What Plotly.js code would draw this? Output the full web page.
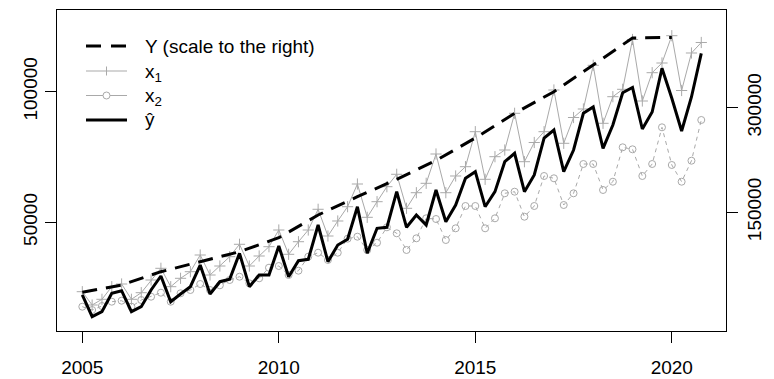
<!DOCTYPE html>
<html>
<head>
<meta charset="utf-8">
<script src="https://cdn.plot.ly/plotly-3.0.1.min.js"></script>
<style>html,body{margin:0;padding:0;background:#fff;}#chart{width:774px;height:379px;}</style>
</head>
<body>
<div id="chart"></div>
<script>
// quarterly series start (like an R ts: start 2005 Q1, frequency 4)
const quarterStart = 2005;
const quarterFreq = 4;
const x1 = [23430,18340,20520,25345,26380,20520,23050,27910,32390,25345,
            28560,31090,37480,29820,33270,36830,41580,33270,37100,40660,
            47050,37750,42570,47050,54980,44755,50500,55970,64660,51910,
            57890,63630,68380,55360,61330,64930,76150,61330,67730,71290,
            84690,66460,75120,77680,91730,73200,80550,84690,100650,80240,
            90120,93380,110110,87900,98090,100920,119990,96440,107280,110990,
            121440,100460,114820,118840];
const x2 = [17690,16420,17960,19600,19985,17690,20250,21520,23050,19600,
            22820,24080,26380,24080,25880,27910,29170,26650,28560,32620,
            33270,29820,31470,36830,38360,35570,38360,43720,44490,39400,
            42190,48090,45790,39400,43870,51530,51260,43220,47700,56240,
            56240,47700,51530,61100,61720,52140,56240,67730,66850,56620,
            61100,72320,72320,62370,65540,78710,77950,67730,72320,86370,
            71940,65540,73580,89170];
const yhat = [22170,13860,15770,22820,23810,15770,17690,24080,29440,19600,
              22550,25345,33650,22550,27260,28180,38130,25345,29820,29820,
              40930,29170,35300,35830,48970,34920,41310,43490,55970,38130,
              47700,48090,61720,48090,52790,48970,62370,50230,56620,66850,
              69370,55970,61720,73200,76420,61720,68110,82270,85340,69370,
              77680,91730,94140,78330,87250,99620,101610,85720,92230,108960,
              97470,84950,97970,114700];
// annual series Y (right axis)
const yearsY = [2005,2006,2007,2008,2009,2010,2011,2012,2013,2014,2015,2016,2017,2018,2019,2020];
const Y = [35280,45750,64820,79160,93500,113570,146130,172370,197320,224280,256550,291970,322940,361230,400000,400800];
// axis ticks
const xTicks = [2005,2010,2015,2020];
const yLeftTicks = [50000,100000];
const yRightTicks = [150000,300000];
const legendNames = ['Y (scale to the right)','x<sub>1</sub>','x<sub>2</sub>','\u0177'];

const tq = x1.map((_, i) => quarterStart + i / quarterFreq);
const grey = '#a9a9a9';
const font = {family: 'Liberation Sans, Arial, Helvetica, sans-serif', size: 19, color: '#000'};

const traces = [
  {x: yearsY, y: Y, yaxis: 'y2', name: legendNames[0], mode: 'lines',
   line: {color: '#000', width: 3, dash: '15px,9px'}},
  {x: tq, y: x1, name: legendNames[1], mode: 'lines+markers',
   line: {color: grey, width: 1},
   marker: {symbol: 'cross-thin-open', size: 8, color: grey, line: {color: grey, width: 1}}},
  {x: tq, y: x2, name: legendNames[2], mode: 'lines+markers',
   line: {color: grey, width: 1, dash: '4px,4px'},
   marker: {symbol: 'circle-open', size: 7, color: grey, line: {color: grey, width: 1}}},
  {x: tq, y: yhat, name: legendNames[3], mode: 'lines',
   line: {color: '#000', width: 3}}
];

// ---- legend drawn in layout (paper coordinates computed from pixel layout) ----
const M = {l: 57, r: 48, t: 10, b: 48};
const W = 774, H = 379;
const pw = W - M.l - M.r, ph = H - M.t - M.b;
const px = X => (X - M.l) / pw;
const py = Yp => (H - M.b - Yp) / ph;
const legRows = [46, 71, 95.5, 120];
const legX0 = 86, legX1 = 127, legMid = 106.5, legText = 143;

const shapes = [];
const annotations = [];
const seg = (y, color, width, dash) => shapes.push({type: 'line', xref: 'paper', yref: 'paper',
  x0: px(legX0), x1: px(legX1), y0: py(y), y1: py(y), line: {color, width, dash: dash || 'solid'}});
seg(legRows[0], '#000', 3, '15px,10px');
seg(legRows[1], grey, 1);
shapes.push({type: 'line', xref: 'paper', yref: 'paper', x0: px(legMid), x1: px(legMid),
  y0: py(legRows[1] - 4.5), y1: py(legRows[1] + 4.5), line: {color: grey, width: 1}});
seg(legRows[2], grey, 1);
shapes.push({type: 'circle', xref: 'paper', yref: 'paper', xsizemode: 'pixel', ysizemode: 'pixel',
  xanchor: px(legMid), yanchor: py(legRows[2]), x0: -3.5, x1: 3.5, y0: -3.5, y1: 3.5,
  fillcolor: '#fff', line: {color: grey, width: 1}});
seg(legRows[3], '#000', 3);
const textOffsets = [0, 2, 2, -1];
legendNames.forEach((t, i) => annotations.push({text: t, xref: 'paper', yref: 'paper',
  x: px(legText), y: py(legRows[i] + textOffsets[i]), xanchor: 'left', yanchor: 'middle',
  showarrow: false, font: font}));

const axisCommon = {showgrid: false, zeroline: false, ticks: 'outside', ticklen: 11,
  tickwidth: 1, tickcolor: '#000', tickfont: font, showline: true, linecolor: '#000', linewidth: 1};

const layout = {
  width: W, height: H,
  margin: {l: M.l, r: M.r, t: M.t, b: M.b, pad: 0},
  paper_bgcolor: '#fff', plot_bgcolor: '#fff',
  font: font,
  showlegend: false,
  shapes: shapes,
  annotations: annotations,
  xaxis: Object.assign({}, axisCommon, {range: [2004.356, 2021.379], tickvals: xTicks,
           ticktext: xTicks.map(String), mirror: true, ticklabelstandoff: 8}),
  yaxis: Object.assign({}, axisCommon, {range: [8384, 131280], tickvals: yLeftTicks,
           ticktext: yLeftTicks.map(String), tickangle: -90, mirror: true}),
  yaxis2: Object.assign({}, axisCommon, {range: [-20220, 440100], tickvals: yRightTicks,
           ticktext: yRightTicks.map(String), tickangle: -90, overlaying: 'y', side: 'right', showline: false})
};

Plotly.newPlot('chart', traces, layout, {staticPlot: true, displayModeBar: false});
</script>
</body>
</html>
